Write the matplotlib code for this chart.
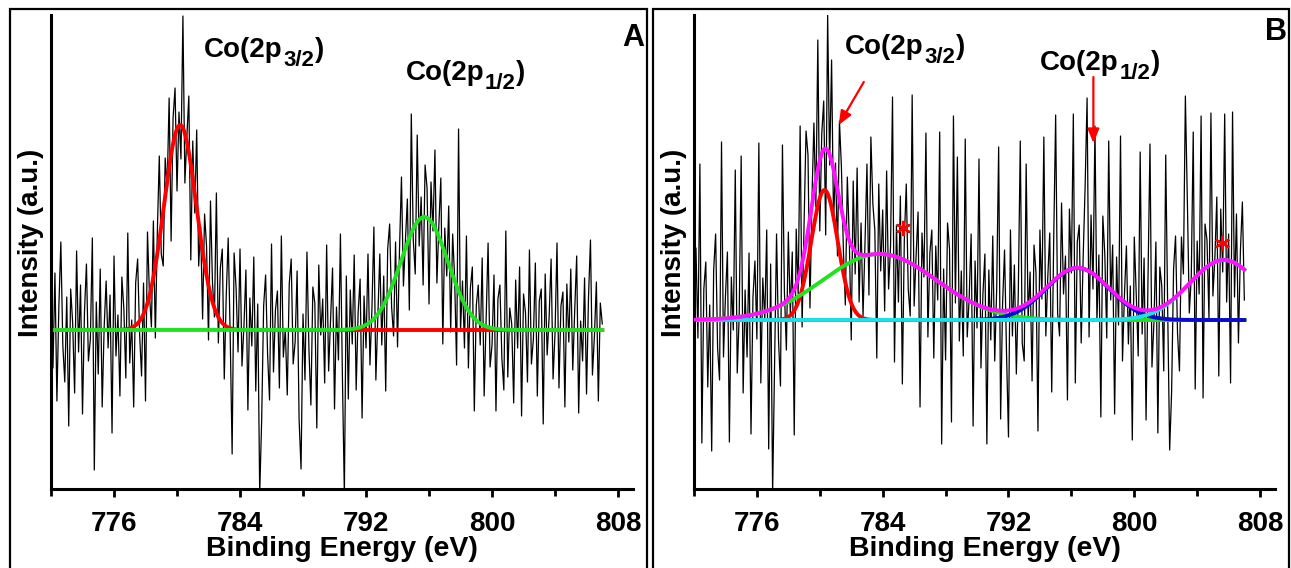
import numpy as np
import matplotlib.pyplot as plt
from matplotlib.patches import Rectangle
from matplotlib.ticker import FixedLocator

plt.rcParams['font.family'] = 'Liberation Sans'
plt.rcParams['font.weight'] = 'bold'

# binding energy grid (eV), 0.125 eV step
energy = np.linspace(772, 807, 281)

# panel A raw spectrum (a.u.)
intensity_a = [
    176, 126, 221, 93, 188, 252, 149, 112,
    197, 68, 205, 171, 101, 243, 142, 209,
    80, 182, 230, 133, 155, 256, 24, 192,
    120, 225, 87, 167, 213, 146, 199, 61,
    238, 138, 179, 98, 217, 185, 116, 261,
    131, 174, 87, 211, 235, 160, 118, 211,
    93, 262, 200, 167, 273, 156, 261, 338,
    240, 228, 336, 306, 396, 253, 376, 406,
    303, 382, 335, 478, 311, 357, 398, 234,
    353, 281, 364, 228, 267, 175, 280, 248,
    154, 293, 212, 177, 301, 151, 226, 245,
    115, 198, 256, 160, 40, 241, 206, 142,
    245, 128, 168, 224, 84, 196, 148, 237,
    103, 190, 0, 74, 188, 219, 140, 94,
    250, 122, 184, 203, 106, 258, 137, 165,
    99, 210, 235, 130, 152, 223, 75, 25,
    180, 114, 242, 145, 89, 207, 191, 66,
    229, 159, 195, 111, 249, 123, 174, 226,
    85, 187, 134, 260, 118, 0, 218, 95,
    204, 150, 239, 104, 182, 215, 76, 198,
    146, 240, 129, 185, 267, 114, 178, 240,
    149, 218, 103, 245, 270, 187, 158, 252,
    147, 244, 317, 208, 253, 295, 184, 380,
    254, 220, 359, 248, 297, 209, 329, 306,
    190, 312, 263, 344, 211, 269, 316, 150,
    266, 218, 288, 162, 260, 216, 129, 365,
    163, 213, 146, 258, 126, 206, 227, 83,
    188, 209, 149, 236, 98, 175, 251, 127,
    149, 219, 83, 195, 209, 136, 104, 263,
    117, 186, 170, 91, 214, 146, 227, 78,
    200, 181, 112, 244, 130, 155, 231, 98,
    193, 205, 70, 220, 139, 177, 235, 115,
    161, 251, 106, 188, 202, 87, 210, 152,
    225, 124, 184, 238, 81, 173, 133, 216,
    100, 197, 254, 119, 158, 212, 93, 191,
    170,
]

# panel B raw spectrum (a.u.)
intensity_b = [
    129, 246, 156, 330, 51, 205, 232, 107,
    189, 43, 224, 260, 146, 114, 352, 137,
    198, 242, 52, 217, 164, 324, 121, 179,
    338, 101, 204, 137, 241, 60, 197, 233,
    155, 351, 111, 216, 174, 264, 45, 230,
    0, 127, 260, 154, 108, 349, 202, 144,
    262, 179, 242, 59, 265, 200, 368, 167,
    270, 363, 339, 186, 294, 371, 287, 454,
    263, 360, 393, 259, 479, 329, 434, 272,
    331, 238, 373, 327, 244, 189, 317, 256,
    154, 313, 220, 326, 192, 271, 178, 251,
    330, 199, 357, 290, 264, 136, 310, 223,
    284, 183, 323, 205, 248, 397, 132, 269,
    192, 298, 110, 254, 310, 205, 178, 399,
    188, 238, 282, 87, 261, 217, 361, 157,
    241, 264, 136, 248, 194, 362, 50, 225,
    134, 271, 245, 72, 378, 191, 337, 153,
    223, 138, 355, 157, 196, 260, 68, 233,
    166, 335, 126, 200, 240, 50, 224, 154,
    258, 133, 205, 347, 75, 190, 244, 141,
    57, 264, 158, 229, 120, 202, 353, 151,
    133, 330, 175, 222, 113, 249, 221, 63,
    264, 195, 357, 158, 217, 261, 102, 253,
    379, 181, 158, 291, 200, 238, 94, 285,
    221, 380, 111, 252, 269, 151, 237, 308,
    396, 157, 279, 205, 368, 173, 239, 77,
    278, 240, 156, 353, 194, 249, 80, 237,
    169, 358, 133, 199, 248, 150, 208, 54,
    257, 200, 138, 342, 160, 236, 74, 217,
    350, 127, 171, 252, 61, 227, 208, 123,
    339, 185, 44, 102, 225, 258, 161, 123,
    257, 220, 398, 294, 181, 217, 362, 105,
    253, 200, 378, 96, 270, 254, 176, 381,
    198, 235, 297, 118, 285, 222, 380, 192,
    260, 111, 382, 197, 280, 151, 243, 292,
    194,
]

# fitted gaussian components: centre (eV), height, sigma (eV)
baseline_a = 164
centers_a = [780.2, 795.7]
heights_a = [205, 113]
sigmas_a = [1.03, 1.49]
colors_a = ['#ff0000', '#22e022']

baseline_b = 174
centers_b = [780.3, 783.8, 796.4, 805.7]
heights_b = [130, 66, 52, 60]
sigmas_b = [0.84, 3.6, 2.0, 2.2]
colors_b = ['#ff0000', '#22e022', '#0a0ad0', '#1ee0e6']
envelope_color = '#ff10ff'

ticks = [776, 784, 792, 800, 808]
minor_ticks = [772, 780, 788, 796, 804]

FS = 20


def gauss(x, c, h, s):
    return h * np.exp(-(x - c) ** 2 / (2 * s ** 2))


def co_label(ax, x, y, sub):
    main = ax.text(x, y, 'Co(2p', fontsize=FS, fontweight='bold')
    s = ax.annotate(sub, xy=(1, 0), xycoords=main, xytext=(0.5, -2.5),
                    textcoords='offset points', fontsize=16, fontweight='bold',
                    va='baseline', ha='left')
    ax.annotate(')', xy=(1, 0), xycoords=(s, main), xytext=(0.5, 0),
                textcoords='offset points', fontsize=FS, fontweight='bold',
                va='bottom', ha='left')


x_fit = np.linspace(772, 807, 800)

fig = plt.figure(figsize=(12.91, 5.68), dpi=100)
W, H = 1291, 568

# panel frames
fig.patches.append(Rectangle((10 / W, -0.01), 637 / W, 1 - 9 / H + 0.01, transform=fig.transFigure,
                             fill=False, lw=1.6, ec='black'))
fig.patches.append(Rectangle((653 / W, -0.01), 636 / W, 1 - 9 / H + 0.01, transform=fig.transFigure,
                             fill=False, lw=1.6, ec='black'))

axA = fig.add_axes([51 / W, (H - 489) / H, 582 / W, 474 / H])
axB = fig.add_axes([694 / W, (H - 489) / H, 581 / W, 474 / H])

for ax in (axA, axB):
    ax.set_xlim(772, 808.95)
    ax.set_ylim(5, 479)
    ax.spines['top'].set_visible(False)
    ax.spines['right'].set_visible(False)
    ax.spines['left'].set_linewidth(2.2)
    ax.spines['bottom'].set_linewidth(2.2)
    ax.set_yticks([])
    ax.set_xticks(ticks)
    ax.xaxis.set_minor_locator(FixedLocator(minor_ticks))
    ax.tick_params(axis='x', which='major', direction='out', length=6, width=2, pad=10, labelsize=FS)
    ax.tick_params(axis='x', which='minor', direction='out', length=5, width=2)
    ax.set_xlabel('Binding Energy (eV)', fontsize=20.5, fontweight='bold')
    ax.xaxis.set_label_coords(0.5, -0.1)
    ax.set_ylabel('Intensity (a.u.)', fontsize=20, fontweight='bold')
    ax.yaxis.set_label_coords(-0.012, 0.52)

# panel A
axA.plot(energy, intensity_a, color='black', lw=0.9, zorder=1)
for c, h, s, col in zip(centers_a, heights_a, sigmas_a, colors_a):
    axA.plot(x_fit, baseline_a + gauss(x_fit, c, h, s), color=col, lw=2.8, zorder=2)
co_label(axA, 781.7, 437, '3/2')
co_label(axA, 794.5, 414, '1/2')

# panel B
axB.plot(energy, intensity_b, color='black', lw=0.9, zorder=1)
envelope = np.full_like(x_fit, baseline_b, dtype=float)
for c, h, s, col in zip(centers_b, heights_b, sigmas_b, colors_b):
    comp = gauss(x_fit, c, h, s)
    envelope += comp
    axB.plot(x_fit, baseline_b + comp, color=col, lw=2.8, zorder=2)
axB.plot(x_fit, envelope, color=envelope_color, lw=2.8, zorder=3)
co_label(axB, 781.6, 440, '3/2')
co_label(axB, 794.0, 424, '1/2')
axB.annotate('', xy=(781.2, 369), xytext=(782.8, 412),
             arrowprops=dict(arrowstyle='-|>,head_length=0.6,head_width=0.25', color='red',
                             lw=1.6, mutation_scale=14, shrinkA=0, shrinkB=0))
axB.annotate('', xy=(797.4, 351), xytext=(797.4, 417),
             arrowprops=dict(arrowstyle='-|>,head_length=0.6,head_width=0.25', color='red',
                             lw=1.6, mutation_scale=14, shrinkA=0, shrinkB=0))
axB.plot([785.3, 805.55], [266, 251], ls='none', marker=(6, 2, 0), ms=11, mew=1.6, color='red', zorder=4)

fig.text(633 / W, 1 - 38 / H, 'A', fontsize=22, fontweight='bold', ha='center', va='center')
fig.text(1276 / W, 1 - 32 / H, 'B', fontsize=22, fontweight='bold', ha='center', va='center')

fig.savefig('out.png', dpi=100)
